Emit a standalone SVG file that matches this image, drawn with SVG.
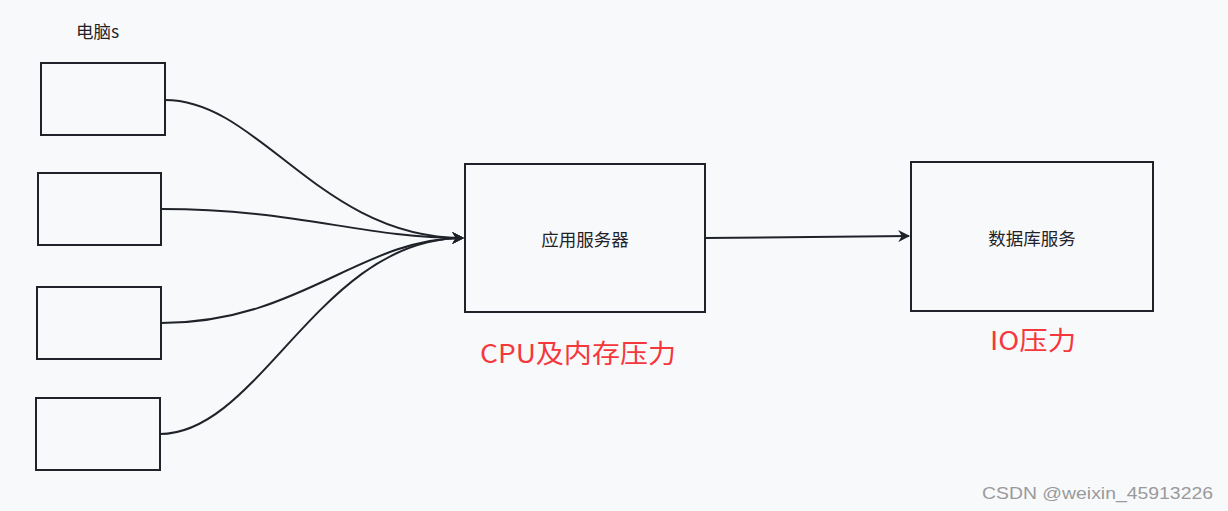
<svg xmlns="http://www.w3.org/2000/svg" width="1228" height="511" viewBox="0 0 1228 511">
<defs>
<marker id="arr" viewBox="0 0 10 10" refX="9" refY="5" markerWidth="12" markerHeight="12" markerUnits="userSpaceOnUse" orient="auto">
<path d="M0,0 L10,5 L0,10 L3,5 Z" fill="#1f2329"/>
</marker>
<style>
.box{fill:none;stroke:#1f2329;stroke-width:2}
.edge{fill:none;stroke:#1f2329;stroke-width:2}
.t{font-family:"Noto Sans CJK SC","Liberation Sans",sans-serif;fill:#1f2329;font-size:17.5px}
.red{font-family:"Noto Sans CJK SC","Liberation Sans",sans-serif;fill:#f5383b;font-size:26px}
</style>
</defs>
<rect width="1228" height="511" fill="#f8f9fb"/>
<text class="t" x="76" y="38">电脑s</text>
<g id="pc1"><rect class="box" x="41" y="63" width="124" height="72"/></g>
<g id="pc2"><rect class="box" x="38" y="173" width="123" height="72"/></g>
<g id="pc3"><rect class="box" x="37" y="287" width="124" height="72"/></g>
<g id="pc4"><rect class="box" x="36" y="398" width="124" height="72"/></g>
<g id="app"><rect class="box" x="465" y="164" width="240" height="148"/>
<text class="t" x="585" y="246" text-anchor="middle">应用服务器</text></g>
<g id="db"><rect class="box" x="911" y="162" width="242" height="149"/>
<text class="t" x="1032" y="245" text-anchor="middle">数据库服务</text></g>
<g id="connectors">
<path class="edge" d="M165,100 C260,100 320,238 463,238" marker-end="url(#arr)"/>
<path class="edge" d="M161,209 C300,209 360,238 463,238" marker-end="url(#arr)"/>
<path class="edge" d="M161,323 C300,323 360,238 463,238" marker-end="url(#arr)"/>
<path class="edge" d="M160,434 C260,434 320,238 463,238" marker-end="url(#arr)"/>
<path class="edge" d="M705,238 L909,236" marker-end="url(#arr)"/>
</g>
<text class="red" x="480" y="363" textLength="196" lengthAdjust="spacingAndGlyphs">CPU及内存压力</text>
<text class="red" x="990" y="350" textLength="86" lengthAdjust="spacingAndGlyphs">IO压力</text>
<text x="982" y="499" font-size="17" textLength="231" lengthAdjust="spacingAndGlyphs" fill="#9a9a9a" font-family="Liberation Sans, sans-serif">CSDN @weixin_45913226</text>
</svg>
